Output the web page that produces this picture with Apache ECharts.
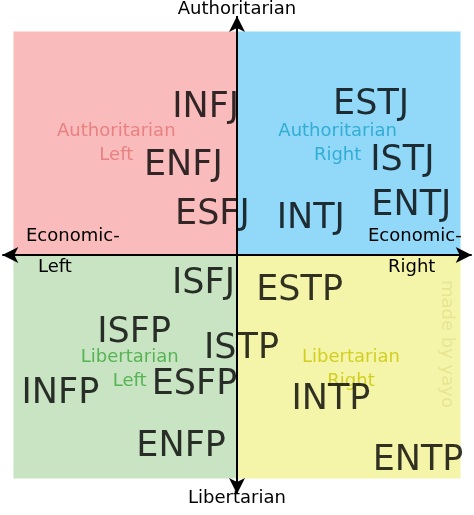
<!DOCTYPE html><html><head><meta charset="utf-8"><script src="https://cdn.jsdelivr.net/npm/echarts@6/dist/echarts.min.js"></script>
<style>html,body{margin:0;padding:0;background:#fff}#c{width:474px;height:515px}</style></head><body><div id="c"></div><script>
const types=['INFJ','ENFJ','ESFJ','ESTJ','ISTJ','ENTJ','INTJ','ISFJ','ESTP','ISFP','ISTP','INFP','ESFP','INTP','ENFP','ENTP'];
const xs=[-1.4,-2.4,-1.1,6.0,7.4,7.8,3.3,-1.5,2.8,-4.6,0.2,-7.9,-1.9,4.2,-2.5,8.1];
const ys=[6.6,4.0,1.8,6.7,4.2,2.2,1.6,-1.3,-1.6,-3.5,-4.2,-6.2,-5.8,-6.5,-8.6,-9.2];
const quadNames=['Authoritarian\nLeft','Authoritarian\nRight','Libertarian\nLeft','Libertarian\nRight'];
const quadX=[-5.4,4.5,-4.8,5.1];
const quadY=[5.0,5.0,-5.1,-5.1];
const quadFill=['#f9bbbb','#92d8f8','#c8e4c2','#f5f5aa'];
const quadText=['#e57373','#1aa3cc','#3aa83a','#c9c500'];
const F='DejaVu Sans';
const ch=echarts.init(document.getElementById('c'));
const txt=(t,l,tp)=>({type:'text',z:100,left:l,top:tp,style:{text:t,fontFamily:F,fontSize:18,fill:'#000'}});
ch.setOption({
 animation:false,
 textStyle:{fontFamily:F},
 grid:{left:2.3,right:2.3,top:15.9,bottom:20.9},
 xAxis:{type:'value',min:-10.5,max:10.5,show:false},
 yAxis:{type:'value',min:-10.7,max:10.7,show:false},
 series:[
  {type:'scatter',data:[],silent:true,
   markArea:{silent:true,data:[
    [{coord:[-10,0],itemStyle:{color:quadFill[0]}},{coord:[0,10]}],
    [{coord:[0,0],itemStyle:{color:quadFill[1]}},{coord:[10,10]}],
    [{coord:[-10,-10],itemStyle:{color:quadFill[2]}},{coord:[0,0]}],
    [{coord:[0,-10],itemStyle:{color:quadFill[3]}},{coord:[10,0]}]]},
   markLine:{silent:true,symbol:['arrow','arrow'],symbolSize:[12,16],label:{show:false},
    lineStyle:{color:'#000',width:2,type:'solid'},data:[
    [{coord:[-10.5,0]},{coord:[10.5,0]}],[{coord:[0,-10.7]},{coord:[0,10.7]}]]}},
  {type:'scatter',symbolSize:1,itemStyle:{color:'transparent'},silent:true,
   data:quadNames.map((n,i)=>({name:n,value:[quadX[i],quadY[i]],
    label:{show:true,position:'inside',formatter:n,fontSize:18,lineHeight:24,color:quadText[i]}}))},
  {type:'scatter',symbolSize:1,itemStyle:{color:'transparent'},silent:true,
   data:types.map((t,i)=>({name:t,value:[xs[i],ys[i]],
    label:{show:true,position:'inside',formatter:t,fontSize:35,color:'#000'}}))},
 ],
 graphic:[
  {type:'text',z:100,left:'center',top:0,style:{text:'Authoritarian',fontFamily:F,fontSize:18,fill:'#000'}},
  {type:'text',z:100,left:'center',top:489,style:{text:'Libertarian',fontFamily:F,fontSize:18,fill:'#000'}},
  txt('Economic-',26,227),txt('Left',38,258),txt('Economic-',368,227),txt('Right',388,258),
  {type:'text',z:100,left:438,top:280,rotation:-Math.PI/2,style:{text:'made by yayo',fontFamily:F,fontSize:18,fill:'#e8e592'}}
 ]
});
</script></body></html>
